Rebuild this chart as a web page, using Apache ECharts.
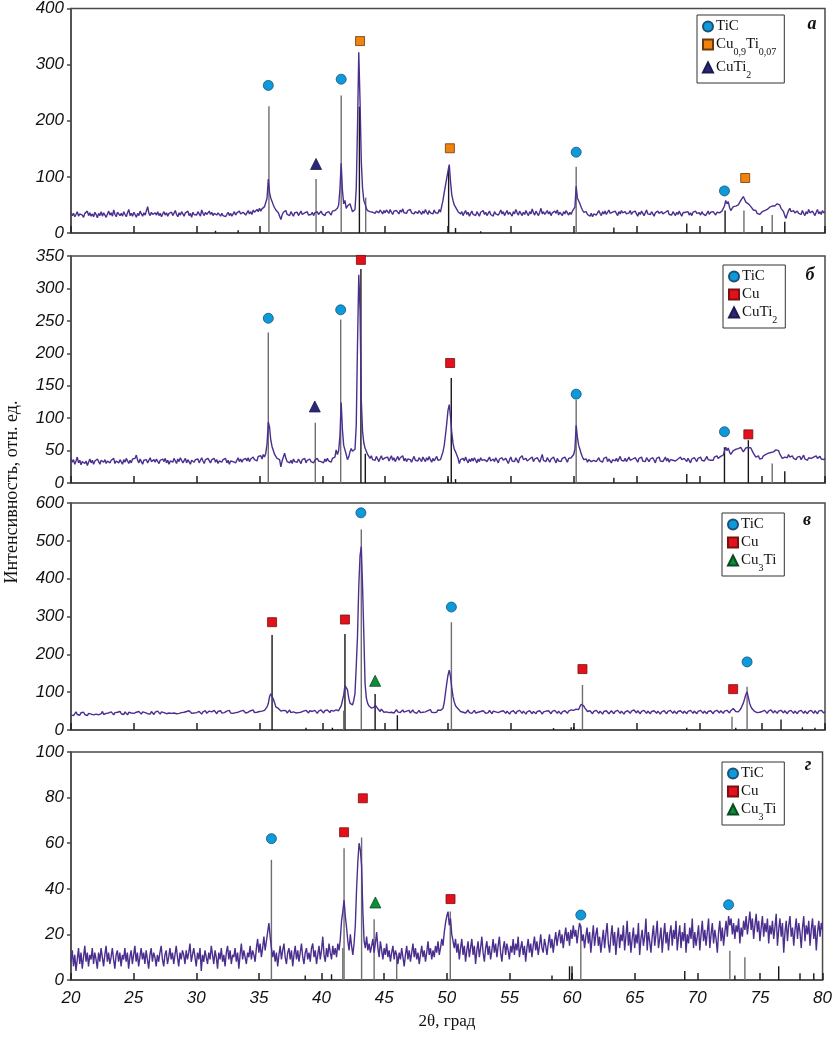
<!DOCTYPE html>
<html>
<head>
<meta charset="utf-8">
<title>XRD</title>
<script src="https://cdn.jsdelivr.net/npm/echarts@6/dist/echarts.min.js"></script>
<style>
  html, body { margin: 0; background: #fff; }
  #chart { width: 835px; height: 1040px; }
</style>
</head>
<body>
<div id="chart"></div>
<script>
// 2θ grid of the measured patterns: 20.0 .. 80.0, step 0.1
const x0 = 20
const step = 0.1

// panel а – intensity, one row = one degree
const intA = [
  36,31,35,29,33,38,30,34,37,32,
  28,35,33,39,31,36,30,34,29,37,
  33,27,35,31,38,30,36,33,28,34,
  39,32,36,30,41,33,29,37,34,31,
  35,30,38,33,29,36,42,31,35,30,
  37,33,28,35,31,39,34,30,36,32,
  29,47,35,31,37,33,30,36,32,38,
  31,35,29,34,38,32,36,30,35,33,
  37,31,34,40,33,29,36,32,38,34,
  30,36,33,39,31,35,28,37,33,36,
  32,38,34,30,41,35,31,37,33,36,
  39,33,37,31,35,38,32,36,34,30,
  35,31,34,29,33,37,31,35,30,34,
  38,32,36,33,39,34,31,37,35,32,
  36,40,34,38,33,41,37,35,42,38,
  44,39,43,40,47,45,62,96,72,62,
  56,50,45,41,39,36,33,24,32,37,
  34,40,33,36,31,38,34,30,36,33,
  37,31,35,39,33,30,36,34,38,32,
  35,33,37,31,36,34,38,33,36,39,
  34,37,31,36,33,38,35,32,39,36,
  40,38,44,50,78,124,76,52,58,44,
  48,45,52,50,38,36,42,80,190,322,
  235,128,80,58,52,44,40,43,38,41,
  37,40,35,39,42,36,41,38,34,40,
  36,41,38,35,42,37,33,39,36,40,
  38,34,41,37,43,36,39,35,40,37,
  42,36,39,34,38,41,35,40,37,33,
  39,35,42,37,33,40,36,38,34,41,
  36,39,35,42,37,48,58,72,85,98,
  110,122,92,68,58,50,46,43,38,41,
  34,38,31,36,40,33,37,30,35,39,
  33,36,31,38,35,30,37,34,40,33,
  37,31,35,39,33,36,30,38,34,37,
  32,36,41,34,38,31,36,40,33,37,
  35,30,38,34,42,36,32,39,35,31,
  37,33,40,35,31,38,34,43,36,32,
  39,35,31,37,44,34,38,33,36,40,
  34,38,31,36,33,39,35,41,32,37,
  35,31,38,34,40,36,32,37,33,39,
  40,46,83,62,57,52,46,41,37,35,
  38,33,36,30,35,29,34,37,32,36,
  40,35,31,38,34,39,33,36,41,35,
  32,37,34,39,35,31,38,34,40,36,
  33,38,34,31,36,40,33,37,35,39,
  34,30,37,33,39,35,31,36,41,34,
  37,33,38,34,30,36,33,39,35,32,
  38,34,31,37,35,40,33,36,32,38,
  35,31,37,33,39,34,30,36,33,37,
  34,38,32,36,31,37,34,39,35,33,
  36,32,38,34,37,31,35,39,33,37,
  34,38,35,32,37,40,36,34,39,37,
  48,58,52,56,46,40,42,47,44,48,
  46,50,54,58,56,65,60,55,57,52,
  50,47,44,41,38,40,35,37,33,36,
  38,35,40,37,42,44,46,43,48,46,
  48,45,52,49,50,44,41,38,31,26,
  34,40,44,38,35,40,36,33,39,35,
  37,33,40,35,31,38,34,42,36,33,
  39,35,31,37,42,34,38,33,40,36,
  38
]

// panel б
const intB = [
  38,32,36,29,34,40,31,35,28,33,
  36,30,34,27,32,37,31,35,29,34,
  31,37,33,29,35,38,32,36,30,34,
  37,31,35,32,38,30,34,37,31,36,
  33,29,36,32,38,34,30,35,31,37,
  34,38,43,35,31,37,33,29,35,32,
  36,31,34,39,33,30,36,32,37,34,
  30,35,32,37,33,38,31,35,29,34,
  36,32,38,34,30,37,33,39,35,31,
  34,38,31,36,33,29,35,38,32,36,
  33,37,31,35,39,34,30,36,33,38,
  35,31,36,33,38,32,36,30,34,37,
  32,36,33,38,31,35,29,34,37,33,
  36,31,35,39,33,37,32,36,34,38,
  34,39,33,37,35,40,36,38,34,41,
  38,42,37,44,40,46,60,94,86,66,
  56,50,44,41,38,40,36,25,34,40,
  46,38,33,36,31,35,30,37,33,36,
  32,37,34,30,36,33,38,31,35,33,
  37,33,36,31,35,32,38,34,36,33,
  35,31,37,33,38,34,36,32,38,35,
  40,51,44,50,72,124,82,58,56,44,
  36,40,48,53,49,46,52,90,215,321,
  267,128,80,62,54,51,44,41,38,42,
  36,39,35,41,37,33,38,42,36,34,
  39,36,40,34,38,42,35,39,33,37,
  41,35,39,36,42,34,38,33,37,40,
  36,32,37,41,35,38,34,39,36,33,
  40,37,33,39,35,41,36,32,38,34,
  37,41,35,38,36,42,48,58,74,92,
  112,121,102,78,61,52,48,46,38,30,
  36,33,38,34,40,35,31,37,33,38,
  34,39,35,31,37,33,39,35,32,36,
  38,33,36,40,34,31,37,33,39,35,
  31,37,34,39,35,32,38,34,30,36,
  40,34,37,33,39,36,31,38,35,42,
  36,33,38,34,31,37,35,40,33,37,
  34,39,36,32,38,44,35,37,33,39,
  36,32,37,34,40,35,31,38,34,37,
  33,38,35,40,36,32,38,35,39,41,
  44,52,89,70,58,52,45,40,36,34,
  37,32,36,39,33,30,35,38,33,36,
  39,34,37,32,38,35,40,33,37,34,
  31,36,39,34,38,33,36,41,35,38,
  34,38,33,36,40,35,32,37,34,39,
  36,32,38,35,40,34,37,33,39,36,
  33,37,34,39,35,31,38,36,40,34,
  37,33,36,40,34,38,32,36,39,35,
  38,34,31,37,35,40,36,33,38,35,
  33,38,35,31,37,34,39,36,33,38,
  36,40,35,38,34,37,41,36,39,35,
  38,35,40,37,42,38,36,41,39,43,
  46,55,50,54,48,44,46,50,47,52,
  49,53,50,55,52,48,51,54,57,55,
  58,54,50,46,43,40,38,42,37,40,
  38,42,39,44,41,46,43,47,45,48,
  46,51,48,50,45,42,38,35,40,43,
  39,44,40,37,42,38,41,36,40,37,
  41,36,39,43,37,40,35,39,42,38,
  36,40,37,42,38,35,41,37,39,36,
  38
]

// panel в
const intV = [
  40,45,38,43,48,41,44,39,46,42,
  47,41,45,38,44,49,42,46,40,44,
  42,47,40,45,43,49,41,46,44,39,
  45,41,48,43,40,46,42,47,44,49,
  43,46,41,48,44,40,47,43,45,50,
  44,41,47,43,49,45,42,48,44,46,
  48,43,46,42,49,45,41,47,44,50,
  45,42,48,44,46,51,43,47,45,49,
  44,48,45,50,43,47,44,49,46,42,
  47,43,49,45,51,46,44,48,45,50,
  46,43,49,45,42,48,46,51,44,47,
  50,45,48,44,52,47,43,49,46,51,
  45,49,46,43,50,47,52,45,48,44,
  49,46,51,47,44,50,46,52,48,45,
  50,47,44,51,48,53,46,50,47,52,
  49,53,50,55,52,57,61,70,88,96,
  100,82,72,61,58,57,54,50,48,52,
  47,51,45,49,53,46,50,48,52,45,
  49,46,51,47,44,50,46,52,48,45,
  51,47,49,45,52,48,44,50,47,53,
  48,45,51,47,53,49,46,52,48,50,
  47,53,49,51,58,64,78,92,118,123,
  106,85,71,68,66,78,97,170,250,380,
  460,485,380,255,123,85,71,64,61,58,
  54,60,66,62,57,53,49,55,51,47,
  51,48,53,46,50,47,52,45,49,54,
  48,51,46,50,53,47,44,50,48,52,
  45,49,53,47,51,44,48,52,46,50,
  47,52,48,45,51,49,54,47,50,46,
  51,47,53,49,52,50,57,72,98,123,
  145,158,141,112,88,74,64,61,56,53,
  49,54,47,51,45,50,53,46,49,44,
  48,52,45,50,47,43,49,46,51,47,
  44,49,46,52,47,43,50,45,48,51,
  46,42,49,45,51,47,44,50,46,42,
  48,45,51,46,43,49,45,52,47,44,
  50,46,42,48,45,51,47,43,49,46,
  43,49,45,51,46,42,48,44,50,47,
  51,46,43,49,45,52,47,44,50,46,
  42,48,45,51,47,44,50,46,53,49,
  52,47,55,50,54,62,68,73,64,58,
  53,49,45,51,47,43,49,46,52,48,
  44,50,46,42,49,45,51,47,43,48,
  51,46,43,49,45,52,47,44,50,46,
  42,48,45,51,47,44,50,46,53,49,
  45,51,47,43,49,46,52,48,44,50,
  47,43,49,45,51,48,44,50,46,42,
  48,45,51,47,43,49,46,52,48,44,
  50,46,43,49,45,51,47,44,50,46,
  43,49,46,52,48,44,50,47,43,49,
  46,52,48,44,50,46,43,49,45,51,
  47,43,49,46,52,48,45,51,47,44,
  50,46,52,48,45,51,55,57,52,49,
  53,48,52,56,60,71,82,94,101,86,
  71,62,56,53,49,52,46,50,47,44,
  49,46,52,48,44,50,47,53,49,45,
  51,47,44,50,46,52,48,45,51,47,
  43,49,46,52,48,44,50,46,43,49,
  46,52,48,44,50,47,43,49,46,52,
  48,44,51,47,43,50,46,52,48,45,
  49
]

// panel г
const intG = [
  8,13,6,11,4,9,14,7,12,5,
  10,15,8,12,6,11,9,14,7,12,
  9,5,12,8,14,10,6,11,15,8,
  12,7,10,14,9,5,11,13,8,12,
  6,11,9,14,8,12,5,10,13,7,
  11,15,8,12,6,10,14,9,12,7,
  13,9,5,11,14,8,12,10,6,11,
  8,12,15,9,6,11,13,7,10,14,
  9,12,7,11,15,10,6,12,9,13,
  11,7,13,9,12,16,8,11,14,10,
  6,12,9,14,4,11,8,13,10,7,
  12,9,15,11,7,13,10,5,12,9,
  14,8,11,6,12,15,9,13,7,11,
  10,14,8,12,5,11,16,9,13,10,
  7,12,10,15,9,13,11,8,14,18,
  12,16,10,14,19,13,17,21,25,19,
  14,10,13,8,12,6,11,15,9,13,
  16,10,7,12,14,9,13,6,11,15,
  9,13,8,12,16,10,7,12,14,9,
  12,8,14,16,10,13,7,11,15,9,
  13,19,11,8,14,10,16,12,9,15,
  11,14,10,16,13,18,26,30,35,28,
  23,17,13,20,15,11,16,24,40,52,
  60,57,50,30,17,14,19,13,16,12,
  15,18,12,16,21,14,10,17,13,9,
  14,11,16,10,13,8,12,15,9,13,
  11,7,12,9,14,10,6,11,15,9,
  13,8,12,16,10,14,9,12,7,11,
  15,10,13,8,12,17,11,14,9,13,
  10,15,12,17,11,14,18,15,21,25,
  28,30,24,27,20,17,14,18,12,16,
  9,14,18,11,15,8,13,17,10,14,
  18,11,15,7,13,17,10,14,19,12,
  8,14,17,11,15,9,13,18,12,16,
  10,15,19,12,8,14,17,11,16,13,
  9,15,12,18,11,16,13,19,10,14,
  17,11,15,8,14,18,12,16,10,15,
  19,13,17,11,15,20,14,12,18,15,
  11,16,20,14,18,12,17,21,15,19,
  22,16,20,14,19,23,17,21,15,22,
  18,24,19,22,16,21,25,23,17,20,
  14,19,23,16,21,12,18,24,15,20,
  23,15,19,12,17,22,14,20,25,16,
  12,19,24,15,21,11,18,23,14,20,
  17,24,13,19,26,15,21,12,18,23,
  14,20,16,25,11,18,22,15,19,27,
  13,21,17,12,19,24,15,20,26,14,
  18,23,12,19,25,16,21,13,20,24,
  15,22,18,26,13,19,24,14,21,17,
  25,12,20,16,23,18,27,14,21,15,
  19,24,13,20,26,17,22,15,21,27,
  14,20,25,16,22,18,12,21,26,17,
  23,15,21,26,19,28,24,27,20,25,
  18,24,21,27,16,23,19,26,22,28,
  20,25,30,22,27,18,24,29,21,26,
  17,23,28,19,25,21,27,16,24,20,
  26,18,23,29,15,22,27,19,25,12,
  21,26,17,24,28,19,23,15,22,27,
  18,25,21,14,23,28,17,24,20,26,
  15,22,27,18,24,13,21,26,19,25,
  22
]

// reference (card) lines [2θ, height], dark and grey ones
const sticksA = [[31.5, 4], [33.3, 5], [42.95, 225], [50.05, 115], [50.6, 9], [52.6, 3], [63.2, 10], [69.0, 17], [72.05, 40], [76.8, 20]]
const sticksGreyA = [[35.75, 226], [39.5, 96], [41.5, 245], [43.45, 63], [60.2, 118], [73.55, 40], [75.8, 32]]
const sticksB = [[43.07, 330], [43.42, 45], [50.0, 7], [50.26, 162], [50.6, 6], [63.2, 8], [69.0, 14], [72.0, 55], [73.9, 66], [76.8, 18]]
const sticksGreyB = [[35.7, 232], [39.44, 93], [41.46, 252], [60.2, 128], [75.8, 30]]
const sticksV = [[36.0, 251], [38.7, 6], [40.8, 6], [41.8, 254], [44.2, 95], [45.97, 39], [58.4, 5], [59.8, 7], [60.0, 8], [69.0, 6], [72.9, 6], [76.5, 28], [78.2, 7], [79.2, 6]]
const sticksGreyV = [[41.7, 51], [43.1, 530], [50.27, 285], [60.7, 119], [72.6, 35], [73.8, 114]]
const sticksG = [[38.7, 2], [40.8, 2.5], [58.4, 2], [59.8, 6], [60.0, 6], [69.0, 4], [73.0, 2], [76.5, 6], [78.2, 3], [79.3, 3]]
const sticksGreyG = [[36.0, 52.7], [41.7, 14], [41.8, 57.8], [43.2, 62.5], [44.2, 26.6], [46.0, 10.5], [50.28, 30], [60.7, 24], [72.6, 12.8], [73.8, 10]]

// phase marks [2θ, height]
const ticA = [[35.7, 263], [41.5, 274], [60.2, 144], [72.0, 75]]
const cuTiA = [[43.0, 342], [50.15, 151], [73.65, 98]]
const cuTi2A = [[39.5, 123]]
const ticB = [[35.7, 254], [41.46, 267], [60.2, 137], [72.0, 79]]
const cuB = [[43.07, 344], [50.17, 185], [73.9, 75]]
const cuTi2B = [[39.4, 118]]
const ticV = [[43.07, 574], [50.27, 325], [73.8, 180]]
const cuV = [[36.0, 285], [41.8, 292], [60.7, 161], [72.69, 108]]
const cu3TiV = [[44.2, 130]]
const ticG = [[36.0, 62], [60.7, 28.5], [72.5, 33]]
const cuG = [[41.8, 64.8], [43.3, 79.7], [50.3, 35.5]]
const cu3TiG = [[44.3, 34]]

// y axes
const yMax = [400, 350, 600, 100]
const yStep = [100, 50, 100, 20]
const letters = ['а', 'б', 'в', 'г']

const phaseStyle = {
  'TiC': { symbol: 'circle', size: 10, color: '#0b9bd9', border: '#1f4e79' },
  'Cu0,9Ti0,07': { symbol: 'rect', size: 9, color: '#f0820f', border: '#6b3a0a' },
  'CuTi2': { symbol: 'triangle', size: 11, color: '#2b2878', border: '#1c1a50' },
  'Cu': { symbol: 'rect', size: 9, color: '#e3111b', border: '#7a1010' },
  'Cu3Ti': { symbol: 'triangle', size: 11, color: '#0d8c3c', border: '#0a4a20' }
}
const legendText = {
  'TiC': 'TiC',
  'Cu0,9Ti0,07': 'Cu{s|0,9}Ti{s|0,07}',
  'CuTi2': 'CuTi{s|2}',
  'Cu': 'Cu',
  'Cu3Ti': 'Cu{s|3}Ti'
}

const panels = [
  { top: 5, height: 228, line: intA, sticks: sticksA, grey: sticksGreyA, phases: [['TiC', ticA], ['Cu0,9Ti0,07', cuTiA], ['CuTi2', cuTi2A]], legend: [697, 15], letter: [812, 24] },
  { top: 256, height: 227, line: intB, sticks: sticksB, grey: sticksGreyB, phases: [['TiC', ticB], ['Cu', cuB], ['CuTi2', cuTi2B]], legend: [723, 265], letter: [810, 275] },
  { top: 503, height: 227, line: intV, sticks: sticksV, grey: sticksGreyV, phases: [['TiC', ticV], ['Cu', cuV], ['Cu3Ti', cu3TiV]], legend: [722, 513], letter: [807, 520] },
  { top: 752, height: 228, line: intG, sticks: sticksG, grey: sticksGreyG, phases: [['TiC', ticG], ['Cu', cuG], ['Cu3Ti', cu3TiG]], legend: [722, 762], letter: [808, 765] }
]

const axisColor = '#4a4a4a'
const grid = []
const xAxis = []
const yAxis = []
const series = []
const legend = []
const graphic = []

panels.forEach((p, i) => {
  grid.push({
    left: 71, right: 10, top: p.top, height: p.height,
    show: true, borderColor: axisColor, borderWidth: 1.5
  })
  xAxis.push({
    type: 'value', gridIndex: i, min: 20, max: 80, interval: 5,
    axisLine: { lineStyle: { color: axisColor, width: 1.5 } },
    axisTick: { inside: true, length: 7, lineStyle: { color: '#222', width: 1.5 } },
    axisLabel: {
      show: i === 3, margin: 10, color: '#111',
      fontFamily: 'Liberation Sans', fontStyle: 'italic', fontSize: 17
    },
    splitLine: { show: false }
  })
  yAxis.push({
    type: 'value', gridIndex: i, min: 0, max: yMax[i], interval: yStep[i],
    axisLine: { show: true, lineStyle: { color: axisColor, width: 1.5 } },
    axisTick: { show: true, length: 4, lineStyle: { color: axisColor, width: 1.5 } },
    axisLabel: {
      margin: 7, color: '#111',
      fontFamily: 'Liberation Sans', fontStyle: 'italic', fontSize: 17
    },
    splitLine: { show: false }
  })

  // card lines
  const stickData = p.sticks.map(s => ({ value: s, itemStyle: { color: '#161616' } }))
    .concat(p.grey.map(s => ({ value: s, itemStyle: { color: '#6e6e6e' } })))
  series.push({
    type: 'bar', xAxisIndex: i, yAxisIndex: i, barWidth: 1.4,
    data: stickData, silent: true, z: 1
  })

  // measured pattern
  series.push({
    type: 'line', xAxisIndex: i, yAxisIndex: i,
    data: p.line.map((v, k) => [+(x0 + k * step).toFixed(1), v]),
    showSymbol: false, silent: true, z: 2,
    lineStyle: { color: '#4b2f8f', width: 1.4 }
  })

  // phase marks
  p.phases.forEach(([name, pts]) => {
    const st = phaseStyle[name]
    series.push({
      type: 'scatter', name, xAxisIndex: i, yAxisIndex: i,
      symbol: st.symbol, symbolSize: st.size, data: pts, z: 3,
      itemStyle: { color: st.color, borderColor: st.border, borderWidth: 0.8, opacity: 1 }
    })
  })

  legend.push({
    left: p.legend[0], top: p.legend[1], orient: 'vertical',
    data: p.phases.map(ph => ph[0]),
    selectedMode: false,
    itemWidth: 10, itemHeight: 10, itemGap: 3,
    padding: [4, 8, 3, 5],
    borderColor: '#333', borderWidth: 1, backgroundColor: '#fff',
    formatter: name => legendText[name],
    textStyle: {
      fontFamily: 'Liberation Serif', fontSize: 15, color: '#111', padding: [0, 0, 0, -2],
      rich: { s: { fontFamily: 'Liberation Serif', fontSize: 10, color: '#111', verticalAlign: 'bottom', padding: [0, 0, -5, 0] } }
    }
  })

  graphic.push({
    type: 'text', x: p.letter[0], y: p.letter[1],
    style: {
      text: letters[i], fill: '#111', align: 'center', verticalAlign: 'middle',
      font: 'italic bold 18px "Liberation Serif"'
    }
  })
})

graphic.push({
  type: 'text', x: 12, y: 492, rotation: Math.PI / 2,
  style: { text: 'Интенсивность, отн. ед.', fill: '#111', align: 'center', verticalAlign: 'middle', font: '18px "Liberation Serif"' }
})
graphic.push({
  type: 'text', x: 447, y: 1022,
  style: { text: '2θ, град', fill: '#111', align: 'center', verticalAlign: 'middle', font: '17px "Liberation Serif"' }
})

const chart = echarts.init(document.getElementById('chart'))
chart.setOption({
  animation: false,
  backgroundColor: '#fff',
  grid, xAxis, yAxis, series, legend, graphic
})
</script>
</body>
</html>
